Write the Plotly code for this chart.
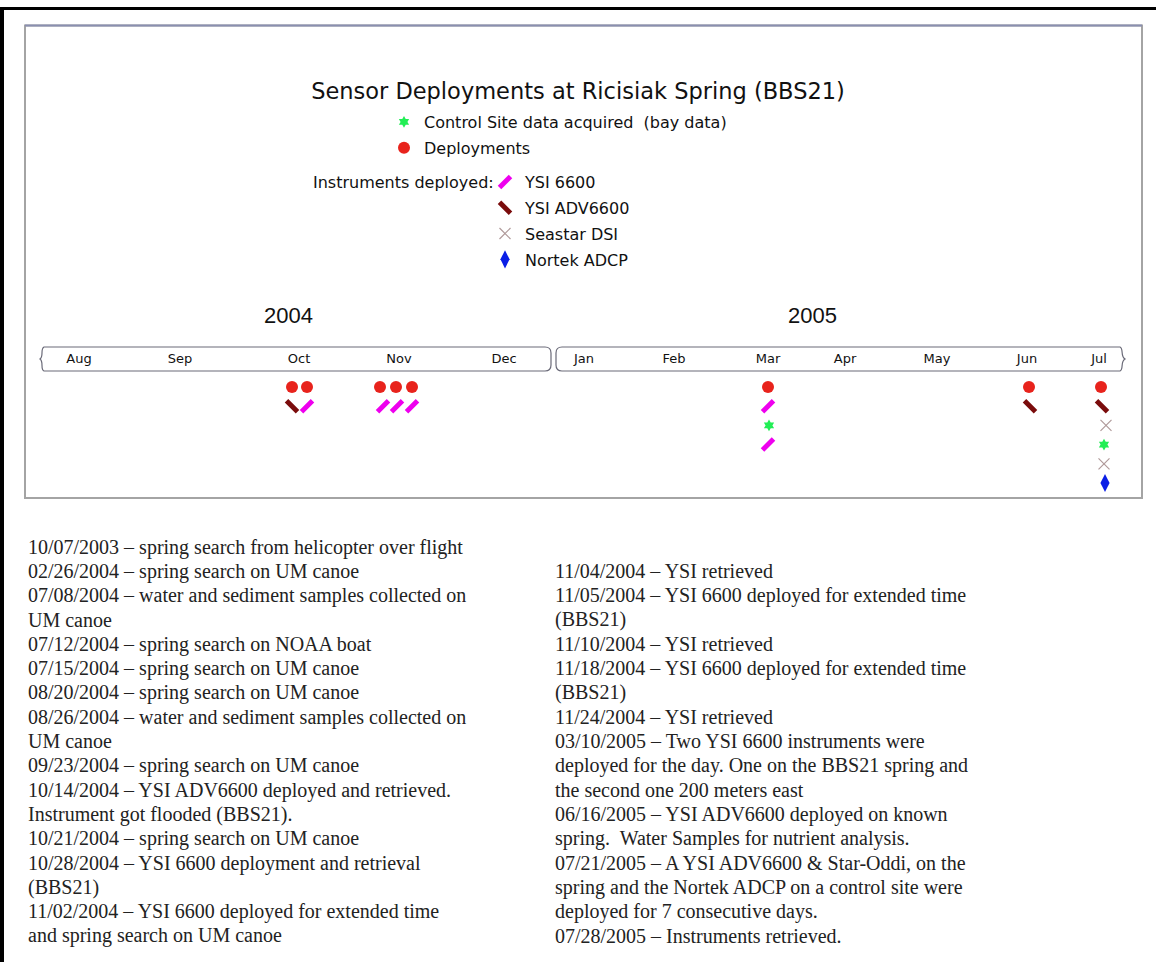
import plotly.graph_objects as go

W, H = 1156, 962

# ---------------- data ----------------
title_text = "Sensor Deployments at Ricisiak Spring (BBS21)"
year_labels = ["2004", "2005"]
year_pos = [288, 812]

month_names = ["Aug", "Sep", "Oct", "Nov", "Dec", "Jan", "Feb", "Mar", "Apr", "May", "Jun", "Jul"]
month_pos = [79, 180, 299, 399, 504, 584, 674, 768, 845, 937, 1027, 1099]

# event positions along the timeline and row index below the band
deploy_x = [292, 307, 380, 396, 412, 768, 1029, 1101]
deploy_row = [0, 0, 0, 0, 0, 0, 0, 0]
ysi6600_x = [307, 383, 397, 412, 768, 768]
ysi6600_row = [1, 1, 1, 1, 1, 3]
adv6600_x = [292, 1030, 1102]
adv6600_row = [1, 1, 1]
control_x = [769, 1104]
control_row = [2, 3]
seastar_x = [1106, 1104]
seastar_row = [2, 4]
nortek_x = [1105]
nortek_row = [5]

instruments_label = "Instruments deployed:"

left_lines = [
    "10/07/2003 – spring search from helicopter over flight",
    "02/26/2004 – spring search on UM canoe",
    "07/08/2004 – water and sediment samples collected on",
    "UM canoe",
    "07/12/2004 – spring search on NOAA boat",
    "07/15/2004 – spring search on UM canoe",
    "08/20/2004 – spring search on UM canoe",
    "08/26/2004 – water and sediment samples collected on",
    "UM canoe",
    "09/23/2004 – spring search on UM canoe",
    "10/14/2004 – YSI ADV6600 deployed and retrieved.",
    "Instrument got flooded (BBS21).",
    "10/21/2004 – spring search on UM canoe",
    "10/28/2004 – YSI 6600 deployment and retrieval",
    "(BBS21)",
    "11/02/2004 – YSI 6600 deployed for extended time",
    "and spring search on UM canoe",
]
right_lines = [
    "11/04/2004 – YSI retrieved",
    "11/05/2004 – YSI 6600 deployed for extended time",
    "(BBS21)",
    "11/10/2004 – YSI retrieved",
    "11/18/2004 – YSI 6600 deployed for extended time",
    "(BBS21)",
    "11/24/2004 – YSI retrieved",
    "03/10/2005 – Two YSI 6600 instruments were",
    "deployed for the day. One on the BBS21 spring and",
    "the second one 200 meters east",
    "06/16/2005 – YSI ADV6600 deployed on known",
    "spring.&nbsp; Water Samples for nutrient analysis.",
    "07/21/2005 – A YSI ADV6600 &amp; Star-Oddi, on the",
    "spring and the Nortek ADCP on a control site were",
    "deployed for 7 consecutive days.",
    "07/28/2005 – Instruments retrieved.",
]

# ---------------- layout constants ----------------
ROW0_Y, ROW_STEP = 387, 19.2
TEXT_Y0, TEXT_STEP = 547, 24.31
LEFT_X, RIGHT_X = 26, 553
SANS = "DejaVu Sans"
ARIAL = "Liberation Sans"
SERIF = "Liberation Serif"

fig = go.Figure()

common = dict(mode="markers", xaxis="x", yaxis="y2", hoverinfo="skip")

fig.add_trace(go.Scatter(x=control_x, y=control_row, name="Control Site data acquired  (bay data)",
                         marker=dict(symbol="hexagram", size=9, color="#22ee55"),
                         legend="legend", legendgroup="a", **common))
fig.add_trace(go.Scatter(x=deploy_x, y=deploy_row, name="Deployments",
                         marker=dict(symbol="circle", size=12, color="#e8231c"),
                         legend="legend", legendgroup="b", **common))
fig.add_trace(go.Scatter(x=ysi6600_x, y=ysi6600_row, name="YSI 6600",
                         marker=dict(symbol="line-ne", size=11, color="#ee00ee",
                                     line=dict(width=5, color="#ee00ee")),
                         legend="legend2", legendgroup="c", **common))
fig.add_trace(go.Scatter(x=adv6600_x, y=adv6600_row, name="YSI ADV6600",
                         marker=dict(symbol="line-nw", size=11, color="#7a0c0c",
                                     line=dict(width=5, color="#7a0c0c")),
                         legend="legend2", legendgroup="d", **common))
fig.add_trace(go.Scatter(x=seastar_x, y=seastar_row, name="Seastar DSI",
                         marker=dict(symbol="x-thin", size=11, color="#b09a9a",
                                     line=dict(width=1.2, color="#b09a9a")),
                         legend="legend2", legendgroup="e", **common))
fig.add_trace(go.Scatter(x=nortek_x, y=nortek_row, name="Nortek ADCP",
                         marker=dict(symbol="diamond-tall", size=13, color="#0a1ee6"),
                         legend="legend2", legendgroup="f", **common))

annotations = []
for lab, xp in zip(year_labels, year_pos):
    annotations.append(dict(x=xp, y=315, xref="x", yref="y", text=lab, showarrow=False,
                            font=dict(family=ARIAL, size=22, color="#111")))
annotations.append(dict(x=311, y=182, xref="x", yref="y", text=instruments_label, showarrow=False,
                        xanchor="left", yanchor="middle",
                        font=dict(family=SANS, size=16, color="#111")))
for i, line in enumerate(left_lines):
    annotations.append(dict(x=LEFT_X, y=TEXT_Y0 + TEXT_STEP * i, xref="x", yref="y", text=line,
                            showarrow=False, xanchor="left", yanchor="middle",
                            font=dict(family=SERIF, size=20, color="#222")))
for i, line in enumerate(right_lines):
    annotations.append(dict(x=RIGHT_X, y=TEXT_Y0 + TEXT_STEP * (i + 1), xref="x", yref="y", text=line,
                            showarrow=False, xanchor="left", yanchor="middle",
                            font=dict(family=SERIF, size=20, color="#222")))

band_line = dict(color="#6a6a78", width=1.2)
shapes = [
    # outer page frame
    dict(type="line", xref="x", yref="y", x0=0, x1=W, y0=8.5, y1=8.5, line=dict(color="black", width=3)),
    dict(type="line", xref="x", yref="y", x0=2, x1=2, y0=7, y1=H, line=dict(color="black", width=4)),
    # chart box
    dict(type="rect", xref="x", yref="y", x0=25, x1=1142, y0=25.5, y1=498,
         line=dict(color="#a4a4a4", width=2)),
    dict(type="line", xref="x", yref="y", x0=25, x1=1142, y0=25.5, y1=25.5,
         line=dict(color="#8a8fb0", width=2)),
    # 2004 band
    dict(type="path", xref="x", yref="y",
         path="M 44,347 L 545,347 Q 551,347 551,353 L 551,365 Q 551,371 545,371 L 44,371 "
              "C 40,369 44,362 40,359 C 44,356 40,349 44,347 Z",
         line=band_line),
    # 2005 band
    dict(type="path", xref="x", yref="y",
         path="M 1120,347 L 562,347 Q 556,347 556,353 L 556,365 Q 556,371 562,371 L 1120,371 "
              "C 1124,369 1120,362 1125,359 C 1120,356 1124,349 1120,347 Z",
         line=band_line),
]

# row axis mapping: pixel y = ROW0_Y + ROW_STEP * row
row_top = (0 - ROW0_Y) / ROW_STEP
row_bot = (H - ROW0_Y) / ROW_STEP

fig.update_layout(
    width=W, height=H,
    margin=dict(l=0, r=0, t=0, b=0),
    paper_bgcolor="white", plot_bgcolor="white",
    title=dict(text=title_text, x=578 / W, xanchor="center", y=1 - 91 / H, yanchor="middle",
               font=dict(family=SANS, size=22.5, color="#111")),
    xaxis=dict(range=[0, W], domain=[0, 1], showgrid=False, zeroline=False, showline=False,
               ticks="", tickmode="array", tickvals=month_pos, ticktext=month_names,
               tickfont=dict(family=SANS, size=13, color="#111"),
               anchor="free", position=1 - 349 / H, fixedrange=True),
    yaxis=dict(range=[H, 0], domain=[0, 1], visible=False, fixedrange=True),
    yaxis2=dict(range=[row_bot, row_top], domain=[0, 1], overlaying="y", visible=False, fixedrange=True),
    showlegend=True,
    legend=dict(x=384 / W, y=1 - 105 / H, xanchor="left", yanchor="top", bgcolor="rgba(0,0,0,0)",
                font=dict(family=SANS, size=16, color="#111"), traceorder="grouped",
                tracegroupgap=2),
    legend2=dict(x=485 / W, y=1 - 165 / H, xanchor="left", yanchor="top", bgcolor="rgba(0,0,0,0)",
                 font=dict(family=SANS, size=16, color="#111"), traceorder="grouped",
                 tracegroupgap=2),
    annotations=annotations,
    shapes=shapes,
)

fig.write_html("out.html", config={"displayModeBar": False},
               post_script="document.body.style.margin='0';")
